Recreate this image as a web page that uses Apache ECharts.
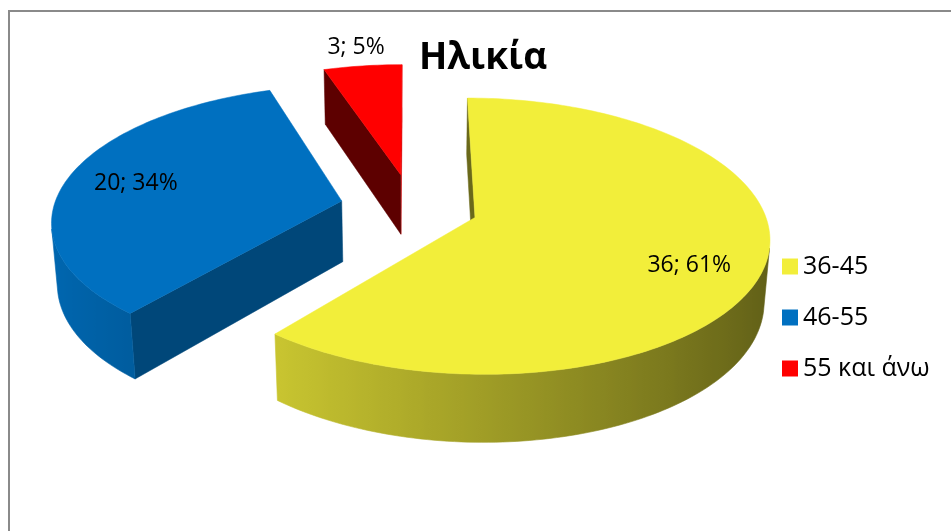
<!DOCTYPE html>
<html>
<head>
<meta charset="utf-8">
<script src="https://cdn.jsdelivr.net/npm/echarts@6/dist/echarts.min.js"></script>
<style>
  html, body { margin: 0; padding: 0; background: #ffffff; }
  #chart { width: 951px; height: 531px; }
</style>
</head>
<body>
<div id="chart"></div>
<script>
// Age groups and number of respondents in each
const categories = ['36-45', '46-55', '55 και άνω'];
const counts = [36, 20, 3];
const chartTitle = 'Ηλικία';

// Slice colours (top face)
const sliceColors = ['#f2ee3a', '#0070c0', '#ff0000'];

// 3D projection of the pie (units: pie radius = 1)
const TILT = 27 * Math.PI / 180;   // viewing elevation
const CAM_DIST = 6.65;              // camera distance from pie centre
const FX = 1915, FY = 1945;         // focal lengths in px
const CX = 412, CY = 207;           // screen position of pie centre
const THICK = 0.238;                // pie thickness
const EXPLODE = [0.23, 0.25, 0.255];
// label placement: radius and angular shift (deg) from the slice bisector
const LABEL_R = [0.77, 0.75, 1.2];
const LABEL_SHIFT = [6, 0, 0];
const FONT = '"Open Sans", "Noto Sans", sans-serif';

const cosT = Math.cos(TILT), sinT = Math.sin(TILT);
const CAM = [0, CAM_DIST * sinT, -CAM_DIST * cosT];

function project(X, Y, Z) {
  const yc = Y * cosT + Z * sinT;
  const d = CAM_DIST + Z * cosT - Y * sinT;
  return [CX + FX * X / d, CY - FY * yc / d];
}
function depth(X, Y, Z) {
  return CAM_DIST + Z * cosT - Y * sinT;
}
function shade(hex, f) {
  const n = parseInt(hex.slice(1), 16);
  const r = Math.round(Math.min(255, ((n >> 16) & 255) * f));
  const g = Math.round(Math.min(255, ((n >> 8) & 255) * f));
  const b = Math.round(Math.min(255, (n & 255) * f));
  return 'rgb(' + r + ',' + g + ',' + b + ')';
}

const total = counts.reduce((a, b) => a + b, 0);
const slices = [];
let acc = 0;
counts.forEach((v) => {
  const a0 = acc / total * Math.PI * 2;
  acc += v;
  const a1 = acc / total * Math.PI * 2;
  slices.push({ a0: a0, a1: a1, mid: (a0 + a1) / 2 });
});

function visible(n, P) {
  return n[0] * (CAM[0] - P[0]) + n[1] * (CAM[1] - P[1]) + n[2] * (CAM[2] - P[2]) > 0;
}

function makeRenderer(i) {
  return function (params, api) {
    const value = api.value(0);
    const s = slices[i];
    const e = EXPLODE[i];
    const ox = e * Math.sin(s.mid), oz = e * Math.cos(s.mid);
    const base = sliceColors[i];
    const rim = (t, Y) => project(ox + Math.sin(t), Y, oz + Math.cos(t));
    const children = [];
    const steps = Math.max(6, Math.ceil((s.a1 - s.a0) / (1.2 * Math.PI / 180)));

    // curved outer side: one polygon over the visible arc, shaded by a gradient
    const topPts = [], botPts = [], stops = [];
    let dSum = 0, dCnt = 0;
    for (let k = 0; k <= steps; k++) {
      const t = s.a0 + (s.a1 - s.a0) * k / steps;
      const n = [Math.sin(t), 0, Math.cos(t)];
      const P = [ox + Math.sin(t), -THICK / 2, oz + Math.cos(t)];
      if (!visible(n, P)) continue;
      const pt = rim(t, 0);
      topPts.push(pt);
      botPts.push(rim(t, -THICK));
      stops.push({ x: pt[0], color: shade(base, 0.658 - 0.268 * n[0]) });
      dSum += depth(P[0], P[1], P[2]); dCnt++;
    }
    if (topPts.length > 1) {
      const xs = stops.map(o => o.x);
      const xmin = Math.min.apply(null, xs), xmax = Math.max.apply(null, xs);
      const span = Math.max(1, xmax - xmin);
      const colorStops = stops
        .map(o => ({ offset: (o.x - xmin) / span, color: o.color }))
        .sort((a, b) => a.offset - b.offset);
      const grad = { type: 'linear', x: xmin, y: 0, x2: xmin + span, y2: 0, global: true, colorStops: colorStops };
      children.push({
        type: 'polygon',
        z2: Math.round(600 - dSum / dCnt * 60),
        shape: { points: topPts.concat(botPts.reverse()) },
        style: { fill: grad, stroke: grad, lineWidth: 0.6 }
      });
    }

    // radial cut faces
    [[s.a0, [-Math.cos(s.a0), 0, Math.sin(s.a0)]], [s.a1, [Math.cos(s.a1), 0, -Math.sin(s.a1)]]].forEach(([a, n]) => {
      const P = [ox + 0.5 * Math.sin(a), -THICK / 2, oz + 0.5 * Math.cos(a)];
      if (!visible(n, P)) return;
      const c = shade(base, 0.644 + 0.204 * n[0] + 0.267 * n[2]);
      children.push({
        type: 'polygon',
        z2: Math.round(600 - depth(P[0], P[1], P[2]) * 60),
        shape: { points: [project(ox, 0, oz), rim(a, 0), rim(a, -THICK), project(ox, -THICK, oz)] },
        style: { fill: c, stroke: c, lineWidth: 0.5 }
      });
    });

    // top face
    const top = [project(ox, 0, oz)];
    for (let k = 0; k <= steps; k++) {
      top.push(rim(s.a0 + (s.a1 - s.a0) * k / steps, 0));
    }
    children.push({
      type: 'polygon',
      z2: 1000,
      shape: { points: top },
      style: { fill: base, stroke: base, lineWidth: 0.5 }
    });

    // value label
    const la = s.mid + LABEL_SHIFT[i] * Math.PI / 180;
    const lp = project(ox + LABEL_R[i] * Math.sin(la), 0, oz + LABEL_R[i] * Math.cos(la));
    children.push({
      type: 'text',
      z2: 1100,
      x: lp[0], y: lp[1],
      style: {
        text: value + '; ' + Math.round(value / total * 100) + '%',
        fill: '#000000',
        font: '23px ' + FONT,
        align: 'center',
        verticalAlign: 'middle'
      }
    });
    return { type: 'group', children: children };
  };
}

const chart = echarts.init(document.getElementById('chart'), null, { renderer: 'canvas' });
chart.setOption({
  backgroundColor: '#ffffff',
  animation: false,
  title: {
    text: chartTitle,
    left: 414,
    top: 35,
    textStyle: { fontFamily: FONT, fontSize: 37, fontWeight: 'bold', color: '#000000' }
  },
  legend: {
    orient: 'vertical',
    left: 777,
    top: 248,
    icon: 'rect',
    itemWidth: 16,
    itemHeight: 16,
    itemGap: 24,
    data: categories,
    selectedMode: false,
    textStyle: { fontFamily: FONT, fontSize: 25, color: '#000000', lineHeight: 27 }
  },
  graphic: [{
    type: 'rect',
    shape: { x: 9, y: 11, width: 1000, height: 600 },
    style: { fill: 'none', stroke: '#8a8a8a', lineWidth: 2 },
    silent: true
  }],
  series: categories.map((name, i) => ({
    type: 'custom',
    name: name,
    coordinateSystem: 'none',
    itemStyle: { color: sliceColors[i] },
    renderItem: makeRenderer(i),
    data: [[counts[i]]]
  }))
});
</script>
</body>
</html>
